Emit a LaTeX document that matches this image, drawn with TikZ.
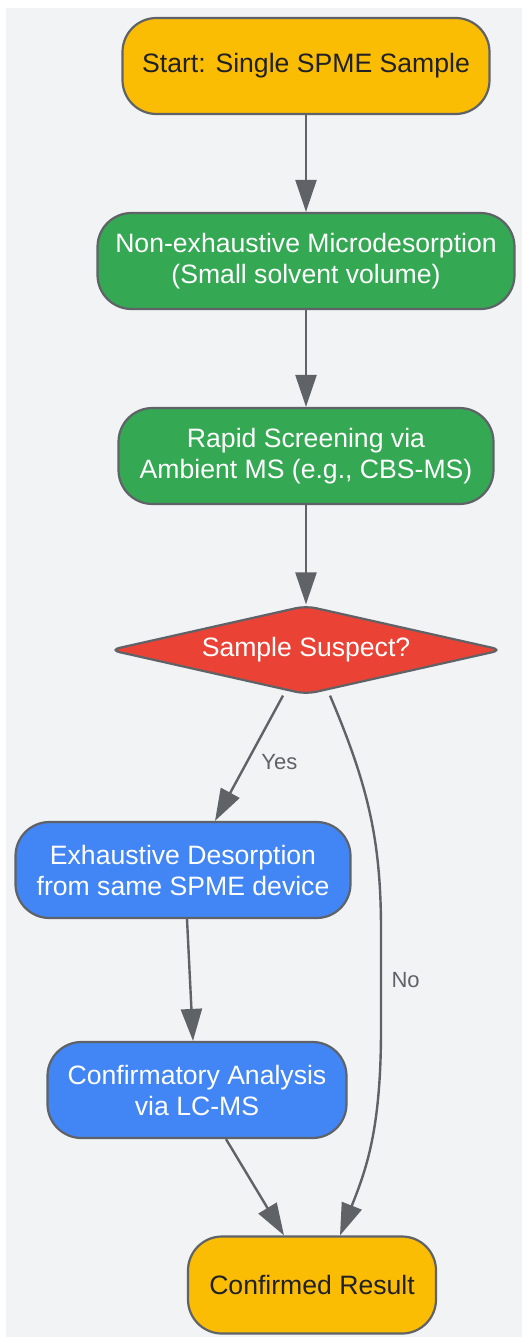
\documentclass[tikz,border=0pt]{standalone}
\usepackage{fontspec}
\setmainfont{Liberation Sans}
\usetikzlibrary{shapes.geometric,arrows.meta,calc}
\definecolor{bgcol}{HTML}{F1F3F4}
\definecolor{linecol}{HTML}{5F6368}
\definecolor{yelcol}{HTML}{FBBC04}
\definecolor{grncol}{HTML}{34A853}
\definecolor{redcol}{HTML}{EA4335}
\definecolor{blucol}{HTML}{4285F4}
\definecolor{txtcol}{HTML}{202124}
\begin{document}
\begin{tikzpicture}[x=1pt,y=-1pt]
% styles
\tikzset{
  box/.style={draw=linecol, line width=2.2pt, rounded corners=34pt, minimum height=96pt,
    align=center, font=\fontsize{26.6}{31}\selectfont, inner sep=0pt},
  startbox/.style={box, fill=yelcol, text=txtcol},
  greenbox/.style={box, fill=grncol, text=white},
  bluebox/.style={box, fill=blucol, text=white},
  decbox/.style={draw=linecol, line width=2.2pt, shape=diamond, aspect=4.4, fill=redcol, text=white,
    minimum width=393pt, minimum height=89pt, inner sep=0pt, rounded corners=10pt,
    font=\fontsize{26.6}{31}\selectfont},
  conn/.style={draw=linecol, line width=2.4pt, -{Triangle[length=32pt,width=21pt]}},
  lbl/.style={text=linecol, font=\fontsize{22}{26}\selectfont}
}
\useasboundingbox (0,0) rectangle (522,1337);
% background
\fill[bgcol] (6,8) rectangle (522,1337);
% the nodes
\node[startbox, minimum width=367pt] (start) at (306,66) {Start: Single SPME Sample};
\node[greenbox, minimum width=417pt] (micro) at (306,261) {Non-exhaustive Microdesorption\\(Small solvent volume)};
\node[greenbox, minimum width=375pt] (screen) at (306,456) {Rapid Screening via\\Ambient MS (e.g., CBS-MS)};
\node[decbox] (suspect) at (306,650) {Sample Suspect?};
\node[bluebox, minimum width=335pt] (exhaust) at (183,870) {Exhaustive Desorption\\from same SPME device};
\node[bluebox, minimum width=299pt] (confirm) at (197,1090) {Confirmatory Analysis\\via LC-MS};
\node[startbox, minimum width=248pt, minimum height=97pt] (result) at (312,1285) {Confirmed Result};
% the connectors
\draw[conn] (start) -- (micro);
\draw[conn] (micro) -- (screen);
\draw[conn] (screen) -- (suspect);
\draw[conn] ($(suspect.south)+(-23,0)$) -- node[lbl, pos=0.53, right=10pt] {Yes} ($(exhaust.north)+(32,0)$);
\draw[conn] ($(exhaust.south)+(4,0)$) -- ($(confirm.north)+(-4,0)$);
\draw[conn] ($(confirm.south)+(29,0)$) -- ($(result.north)+(-28,0)$);
\draw[conn] ($(suspect.south)+(24,0)$) .. controls (368,785) and (381,840) .. (381,930)
  -- node[lbl, right=6pt, pos=0.5] {No} (381,1030) .. controls (381,1130) and (366,1170) .. ($(result.north)+(28,0)$);
\end{tikzpicture}
\end{document}
